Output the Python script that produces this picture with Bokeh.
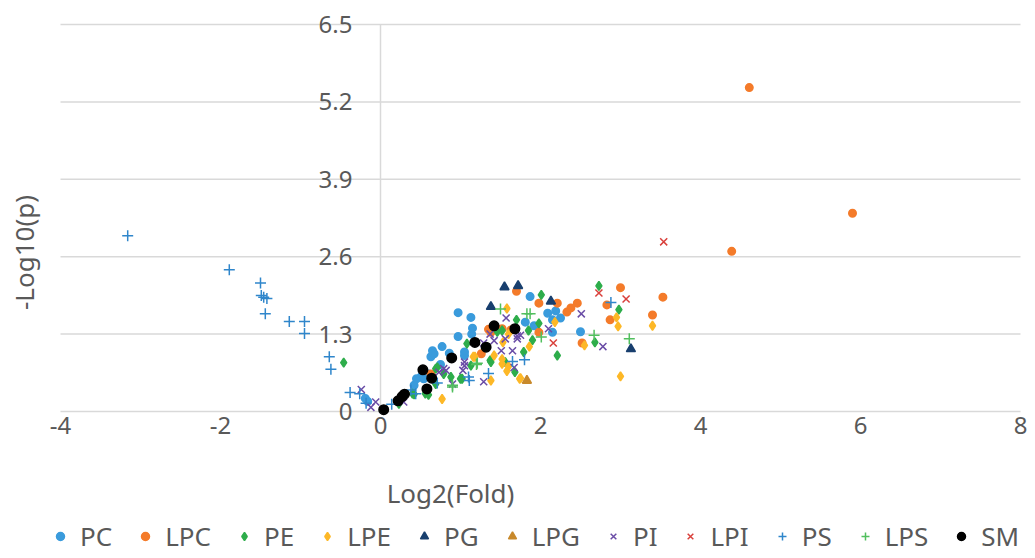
import math
from bokeh.plotting import figure
from bokeh.models import (Range1d, LabelSet, Label, ColumnDataSource, Legend, LegendItem)
from bokeh.core.properties import value
from bokeh.embed import file_html
from bokeh.resources import INLINE

# ---------------- data ----------------
series_names = ["PC", "LPC", "PE", "LPE", "PG", "LPG", "PI", "LPI", "PS", "LPS", "SM"]

pc_x = [-0.19, -0.16, 0.42, 0.45, 0.51, 0.54, 0.60, 0.63, 0.65, 0.67, 0.75, 0.77, 0.86, 0.97, 0.97,
        1.14, 1.15, 1.05, 1.05, 1.81, 1.87, 1.92, 2.09, 2.15, 2.15, 2.19, 2.25, 2.50, 1.13]
pc_y = [0.22, 0.17, 0.44, 0.55, 0.59, 0.55, 0.63, 0.92, 1.02, 0.97, 0.79, 1.09, 0.98, 1.26, 1.66,
        1.30, 1.40, 0.94, 1.00, 1.50, 1.93, 1.44, 1.65, 1.54, 1.33, 1.69, 1.57, 1.34, 1.58]

lpc_x = [0.63, 1.26, 1.35, 1.38, 1.52, 1.63, 1.70, 1.98, 1.98, 2.21, 2.33, 2.38, 2.46, 2.52, 2.83,
         2.87, 3.00, 3.40, 3.53, 4.39, 4.61, 5.90]
lpc_y = [0.63, 0.97, 1.38, 1.33, 1.39, 1.37, 2.02, 1.82, 1.33, 1.82, 1.67, 1.74, 1.82, 1.15, 1.79,
         1.54, 2.08, 1.62, 1.92, 2.69, 5.44, 3.33]

pe_x = [-0.46, 0.23, 0.40, 0.42, 0.56, 0.60, 0.69, 0.69, 0.71, 0.79, 0.88, 1.00, 1.02, 1.08, 1.13,
        1.37, 1.38, 1.46, 1.52, 1.56, 1.68, 1.70, 1.79, 1.85, 1.90, 1.98, 2.01, 2.21, 2.68, 2.73, 2.98]
pe_y = [0.82, 0.13, 0.30, 0.29, 0.30, 0.28, 0.46, 0.72, 0.74, 0.63, 0.58, 0.55, 0.55, 1.14, 0.77,
        0.86, 0.83, 1.34, 1.36, 0.83, 0.66, 1.54, 1.00, 1.36, 1.20, 1.48, 1.96, 0.94, 1.16, 2.11, 1.71]

lpe_x = [0.77, 1.16, 1.18, 1.38, 1.42, 1.52, 1.52, 1.53, 1.58, 1.58, 1.60, 1.60, 1.74, 1.75, 1.86,
         2.18, 2.55, 2.95, 2.97, 3.00, 3.40]
lpe_y = [0.21, 0.92, 0.92, 0.52, 0.94, 0.80, 0.88, 1.16, 0.68, 1.73, 0.76, 1.30, 0.55, 0.56, 1.09,
         1.50, 1.11, 1.58, 1.43, 0.59, 1.44]

pg_x = [1.38, 1.55, 1.72, 2.13, 3.13]
pg_y = [1.76, 2.09, 2.11, 1.85, 1.05]

lpg_x = [1.83]
lpg_y = [0.52]

pi_x = [-0.24, -0.12, -0.06, 0.29, 0.73, 0.79, 0.82, 0.90, 1.03, 1.05, 1.05, 1.29, 1.29, 1.37, 1.42,
        1.51, 1.56, 1.57, 1.65, 1.67, 1.71, 1.71, 1.75, 2.10, 2.51, 2.78]
pi_y = [0.37, 0.07, 0.16, 0.16, 0.66, 0.72, 0.69, 0.46, 0.69, 0.77, 0.83, 1.15, 0.50, 1.30, 1.19,
        1.02, 1.22, 1.57, 1.02, 0.74, 1.27, 1.22, 1.28, 1.39, 1.64, 1.09]

lpi_x = [2.16, 2.73, 3.07, 3.54]
lpi_y = [1.15, 1.99, 1.89, 2.85]

ps_x = [-3.16, -1.89, -1.50, -1.49, -1.46, -1.42, -1.44, -1.14, -0.95, -0.95, -0.64, -0.62, -0.38,
        -0.26, -0.18, 0.14, 0.38, 0.44, 0.71, 1.10, 1.11, 1.35, 1.65, 1.80, 2.88]
ps_y = [2.95, 2.38, 2.16, 1.95, 1.92, 1.90, 1.64, 1.51, 1.51, 1.31, 0.92, 0.71, 0.32,
        0.30, 0.14, 0.12, 0.36, 0.30, 0.48, 0.58, 0.52, 0.64, 0.84, 0.87, 1.83]

lps_x = [0.90, 0.90, 1.20, 1.21, 1.50, 1.83, 1.87, 2.01, 2.67, 3.11]
lps_y = [0.41, 0.44, 0.79, 0.81, 1.72, 1.64, 1.64, 1.25, 1.28, 1.22]

sm_x = [0.04, 0.22, 0.27, 0.30, 0.53, 0.58, 0.64, 0.89, 1.18, 1.32, 1.42, 1.68]
sm_y = [0.03, 0.18, 0.25, 0.29, 0.70, 0.38, 0.56, 0.90, 1.16, 1.08, 1.44, 1.39]

x_ticks = [-4, -2, 0, 2, 4, 6, 8]
x_tick_labels = ["-4", "-2", "0", "2", "4", "6", "8"]
y_ticks = [0, 1.3, 2.6, 3.9, 5.2, 6.5]
y_tick_labels = ["0", "1.3", "2.6", "3.9", "5.2", "6.5"]

# ---------------- layout (pixels) ----------------
W, H = 1035, 558
X0_PX = 380            # screen x of data x=0
Y0_PX = 411            # screen y of data y=0
PPX = 80.0             # pixels per x unit
PPY = 387.0 / 6.5      # pixels per y unit

x_lo = -X0_PX / PPX
x_hi = (W - X0_PX) / PPX
y_hi = Y0_PX / PPY
y_lo = -(H - Y0_PX) / PPY

FONT = "Noto Sans"
TXT = "#595959"
GRID = "#D9D9D9"

p = figure(width=W, height=H, x_range=Range1d(x_lo, x_hi), y_range=Range1d(y_lo, y_hi),
           output_backend="svg", toolbar_location=None, x_axis_type=None, y_axis_type=None,
           min_border=0, outline_line_color=None,
           background_fill_color="white", border_fill_color="white")
p.grid.visible = False

# horizontal gridlines (plot area spans x_ticks[0]..x_ticks[-1])
gx0 = [x_ticks[0]] * len(y_ticks)
gx1 = [x_ticks[-1]] * len(y_ticks)
p.segment(x0=gx0, y0=y_ticks, x1=gx1, y1=y_ticks, line_color=GRID, line_width=1.5)
# vertical axis line at x = 0
p.segment(x0=[0], y0=[y_ticks[0]], x1=[0], y1=[y_ticks[-1]], line_color=GRID, line_width=1.5)

# y tick labels (right aligned, left of the x=0 axis)
ysrc = ColumnDataSource(dict(x=[-28 / PPX] * len(y_ticks), y=y_ticks, text=y_tick_labels))
p.add_layout(LabelSet(x="x", y="y", text="text", source=ysrc,
                      text_align="right", text_baseline="middle", text_font=value(FONT),
                      text_font_size=value("24px"), text_color=value(TXT)))

# x tick labels
xsrc = ColumnDataSource(dict(x=x_ticks, y=[-14 / PPY] * len(x_ticks), text=x_tick_labels))
p.add_layout(LabelSet(x="x", y="y", text="text", source=xsrc,
                      text_align="center", text_baseline="middle", text_font=value(FONT),
                      text_font_size=value("24px"), text_color=value(TXT)))

# axis titles
p.add_layout(Label(x=(450 - X0_PX) / PPX, y=-(492 - Y0_PX) / PPY, text="Log2(Fold)",
                   text_align="center", text_baseline="middle", text_font=FONT,
                   text_font_size="26px", text_color=TXT))
p.add_layout(Label(x=(23 - X0_PX) / PPX, y=(Y0_PX - 252) / PPY, text="-Log10(p)",
                   angle=math.pi / 2, text_align="center", text_baseline="middle",
                   text_font=FONT, text_font_size="26px", text_color=TXT))

specs = [
    ("PC", pc_x, pc_y, "circle", 7.5, "#3A9BDC"),
    ("LPC", lpc_x, lpc_y, "circle", 7.5, "#F47B2A"),
    ("PE", pe_x, pe_y, "diamond", 9, "#2EAD4B"),
    ("LPE", lpe_x, lpe_y, "diamond", 9, "#FDB827"),
    ("PG", pg_x, pg_y, "triangle", 9, "#183F6E"),
    ("LPG", lpg_x, lpg_y, "triangle", 9, "#C8892B"),
    ("PI", pi_x, pi_y, "x", 10, "#6A4CA6"),
    ("LPI", lpi_x, lpi_y, "x", 10, "#D9403B"),
    ("PS", ps_x, ps_y, "cross", 11, "#2F86CB"),
    ("LPS", lps_x, lps_y, "cross", 11, "#51BF5E"),
    ("SM", sm_x, sm_y, "circle", 9.5, "#000000"),
]

items = []
for name, xs, ys, marker, size, color in specs:
    r = p.scatter(x=xs, y=ys, marker=marker, size=size,
                  fill_color=color, line_color=color, line_width=1.5)
    items.append(LegendItem(label=name, renderers=[r]))

legend = Legend(items=items, location=(50, 4), orientation="horizontal",
                padding=0, margin=0, spacing=23, label_standoff=10,
                glyph_width=20, glyph_height=20,
                label_text_font=FONT, label_text_font_size="26px", label_text_color=TXT,
                border_line_color=None, background_fill_alpha=0)
p.add_layout(legend, "center")

open("out.html", "w").write(file_html(p, INLINE))
